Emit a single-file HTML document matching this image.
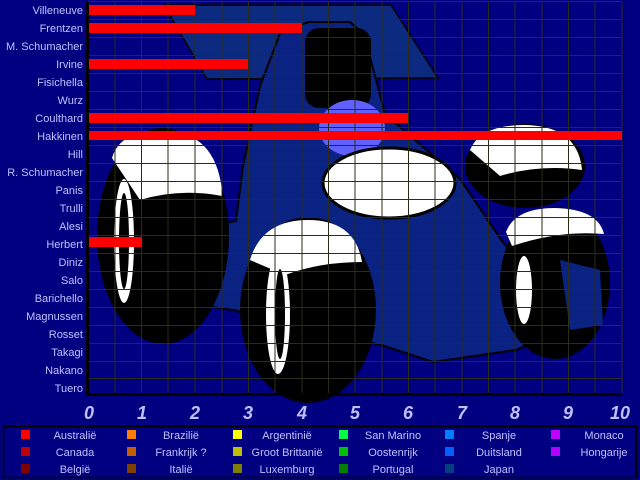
<!DOCTYPE html>
<html><head><meta charset="utf-8"><style>
html,body{margin:0;padding:0;background:#000080;width:640px;height:480px;overflow:hidden}
svg{display:block}
text{font-family:"Liberation Sans",sans-serif}
</style></head><body>
<svg width="640" height="480" viewBox="0 0 640 480" xmlns="http://www.w3.org/2000/svg">
<rect width="640" height="480" fill="#000080"/>
<!-- car -->
<polygon points="164,5 391,5 438,78 207,79" fill="#0b2a80" stroke="#000" stroke-width="1.5"/>
<polygon points="281,31 309,22 350,22 364,34 385,114 460,179 502,241 540,290 560,330 516,350 433,362 381,345 233,310 185,303 181,231 236,221 243,166 260,86" fill="#0a2282" stroke="#000" stroke-width="2"/>
<rect x="305" y="28" width="66" height="80" rx="14" fill="#000"/>
<ellipse cx="352" cy="128" rx="33" ry="28" fill="#6060ff"/>
<ellipse cx="389" cy="183" rx="66" ry="35" fill="#fff" stroke="#000" stroke-width="3"/>
<!-- left rear tire -->
<ellipse cx="163" cy="236" rx="66" ry="108" fill="#000"/>
<path d="M112,158 Q120,130 163,131 Q215,131 222,190 L222,196 Q180,188 140,200 Z" fill="#fff"/>
<ellipse cx="124" cy="241" rx="10" ry="62" fill="#fff"/>
<ellipse cx="124" cy="241" rx="5" ry="48" fill="#000"/>
<!-- right rear tire -->
<ellipse cx="525" cy="166" rx="60" ry="42" fill="#000"/>
<path d="M470,150 Q480,125 525,125 Q578,126 582,170 Q540,164 500,176 Z" fill="#fff"/>
<!-- right front tire -->
<ellipse cx="555" cy="283" rx="55" ry="76" fill="#000"/>
<path d="M506,232 Q515,208 555,208 Q598,209 604,234 Q560,230 512,246 Z" fill="#fff"/>
<ellipse cx="524" cy="290" rx="8" ry="34" fill="#fff"/>
<path d="M560,260 L600,270 L603,325 L570,330 Z" fill="#0a2282"/>
<!-- front left tire -->
<ellipse cx="308" cy="310" rx="68" ry="93" fill="#000"/>
<path d="M250,260 Q262,220 308,220 Q355,220 362,262 Q320,262 285,275 Z" fill="#fff"/>
<ellipse cx="278" cy="314" rx="12" ry="60" fill="#fff"/>
<ellipse cx="280" cy="314" rx="5" ry="45" fill="#000"/>
<!-- grid -->
<g stroke="#2b2b1a" stroke-width="1">
<line x1="115" y1="2" x2="115" y2="394"/><line x1="141.5" y1="2" x2="141.5" y2="394"/><line x1="168" y1="2" x2="168" y2="394"/><line x1="195" y1="2" x2="195" y2="394"/><line x1="222" y1="2" x2="222" y2="394"/><line x1="248.5" y1="2" x2="248.5" y2="394"/><line x1="275" y1="2" x2="275" y2="394"/><line x1="302" y1="2" x2="302" y2="394"/><line x1="328.5" y1="2" x2="328.5" y2="394"/><line x1="355" y1="2" x2="355" y2="394"/><line x1="382" y1="2" x2="382" y2="394"/><line x1="408.5" y1="2" x2="408.5" y2="394"/><line x1="435" y1="2" x2="435" y2="394"/><line x1="462" y1="2" x2="462" y2="394"/><line x1="488.5" y1="2" x2="488.5" y2="394"/><line x1="515" y1="2" x2="515" y2="394"/><line x1="542" y1="2" x2="542" y2="394"/><line x1="568.5" y1="2" x2="568.5" y2="394"/><line x1="595" y1="2" x2="595" y2="394"/><line x1="622" y1="2" x2="622" y2="394"/>
</g>
<path d="M88 1.5H622 M88 19.5H622 M88 37.5H622 M88 55.5H622 M88 73.5H622 M88 91.5H622 M88 109.5H622 M88 127.5H622 M88 145.5H622 M88 163.5H622 M88 181.5H622 M88 199.5H622 M88 217.5H622 M88 235.5H622 M88 253.5H622 M88 271.5H622 M88 289.5H622 M88 307.5H622 M88 325.5H622 M88 343.5H622 M88 361.5H622 M88 378.5H622" stroke="#2b2b1a" stroke-width="1"/>
<rect x="86" y="2" width="3" height="394" fill="#000"/>
<rect x="86" y="393" width="536" height="3" fill="#000"/>
<!-- bars -->
<g fill="#ff0000">
<rect x="89" y="5" width="106" height="10"/>
<rect x="89" y="23" width="213" height="10"/>
<rect x="89" y="59" width="159" height="10"/>
<rect x="89" y="113" width="319" height="10"/>
<rect x="89" y="131" width="533" height="9"/>
<rect x="89" y="237" width="53" height="10"/>
</g>
<!-- labels -->
<g fill="#c0c0ff" font-size="11" text-anchor="end">
<text x="83" y="14">Villeneuve</text><text x="83" y="32">Frentzen</text><text x="83" y="50">M. Schumacher</text><text x="83" y="68">Irvine</text><text x="83" y="86">Fisichella</text><text x="83" y="104">Wurz</text><text x="83" y="122">Coulthard</text><text x="83" y="140">Hakkinen</text><text x="83" y="158">Hill</text><text x="83" y="176">R. Schumacher</text><text x="83" y="194">Panis</text><text x="83" y="212">Trulli</text><text x="83" y="230">Alesi</text><text x="83" y="248">Herbert</text><text x="83" y="266">Diniz</text><text x="83" y="284">Salo</text><text x="83" y="302">Barichello</text><text x="83" y="320">Magnussen</text><text x="83" y="338">Rosset</text><text x="83" y="356">Takagi</text><text x="83" y="374">Nakano</text><text x="83" y="392">Tuero</text>
</g>
<g fill="#c0c0ff" font-size="18" font-weight="bold" font-style="italic" text-anchor="middle">
<text x="89" y="419">0</text><text x="142" y="419">1</text><text x="195" y="419">2</text><text x="248" y="419">3</text><text x="302" y="419">4</text><text x="355" y="419">5</text><text x="408" y="419">6</text><text x="462" y="419">7</text><text x="515" y="419">8</text><text x="568" y="419">9</text><text x="620" y="419">10</text>
</g>
<!-- legend -->
<rect x="3.5" y="426.5" width="633" height="51" fill="none" stroke="#000" stroke-width="1.5"/>
<g>
<rect x="21" y="430" width="9" height="9" fill="#ff0000"/><rect x="21" y="447" width="9" height="9" fill="#c00000"/><rect x="21" y="464" width="9" height="9" fill="#800000"/>
<rect x="127" y="430" width="9" height="9" fill="#ff8000"/><rect x="127" y="447" width="9" height="9" fill="#c06000"/><rect x="127" y="464" width="9" height="9" fill="#804000"/>
<rect x="233" y="430" width="9" height="9" fill="#ffff00"/><rect x="233" y="447" width="9" height="9" fill="#c0c000"/><rect x="233" y="464" width="9" height="9" fill="#808000"/>
<rect x="339" y="430" width="9" height="9" fill="#00ff40"/><rect x="339" y="447" width="9" height="9" fill="#00c000"/><rect x="339" y="464" width="9" height="9" fill="#008000"/>
<rect x="445" y="430" width="9" height="9" fill="#0080ff"/><rect x="445" y="447" width="9" height="9" fill="#0060ff"/><rect x="445" y="464" width="9" height="9" fill="#004080"/>
<rect x="551" y="430" width="9" height="9" fill="#c000ff"/><rect x="551" y="447" width="9" height="9" fill="#b000ff"/>
</g>
<g fill="#c0c0ff" font-size="11" text-anchor="middle">
<text x="75" y="439">Australië</text><text x="75" y="456">Canada</text><text x="75" y="473">België</text>
<text x="181" y="439">Brazilië</text><text x="181" y="456">Frankrijk ?</text><text x="181" y="473">Italië</text>
<text x="287" y="439">Argentinië</text><text x="287" y="456">Groot Brittanië</text><text x="287" y="473">Luxemburg</text>
<text x="393" y="439">San Marino</text><text x="393" y="456">Oostenrijk</text><text x="393" y="473">Portugal</text>
<text x="499" y="439">Spanje</text><text x="499" y="456">Duitsland</text><text x="499" y="473">Japan</text>
<text x="604" y="439">Monaco</text><text x="604" y="456">Hongarije</text>
</g>
</svg>
</body></html>
